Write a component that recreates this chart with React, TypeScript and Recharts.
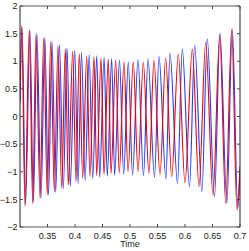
import { LineChart, Line, XAxis, YAxis } from "recharts";

// peaks/troughs, in order
const redTime = [
  0.3, 0.3031, 0.3091, 0.3169, 0.3231, 0.3291, 0.3364, 0.3431, 0.3496, 0.3558,
  0.3624, 0.3691, 0.3758, 0.3824, 0.3878, 0.3958, 0.4018, 0.4078, 0.414, 0.4213,
  0.4273, 0.4345, 0.4395, 0.4473, 0.4527, 0.4605, 0.4655, 0.474, 0.4805, 0.4891,
  0.4964, 0.506, 0.5145, 0.5242, 0.5345, 0.5436, 0.5545, 0.5649, 0.5758, 0.5878,
  0.6, 0.6133, 0.6255, 0.6376, 0.6509, 0.6631, 0.674, 0.6849, 0.6945, 0.7,
];
const redValue = [
  0.3, 1.64, -1.62, 1.57, -1.58, 1.49, -1.48, 1.42, -1.42, 1.35,
  -1.36, 1.28, -1.3, 1.22, -1.24, 1.18, -1.18, 1.14, -1.12, 1.1,
  -1.09, 1.08, -1.07, 1.06, -1.05, 1.04, -1.03, 1.02, -1.02, 0.99,
  -1.0, 0.99, -1.0, 0.98, -1.03, 1.02, -1.05, 1.06, -1.09, 1.13,
  -1.2, 1.22, -1.27, 1.34, -1.42, 1.47, -1.57, 1.58, -1.69, -0.9,
];
const blueTime = [
  0.3, 0.3038, 0.31, 0.318, 0.3244, 0.3307, 0.3382, 0.3451, 0.3518, 0.3582,
  0.3649, 0.3718, 0.3787, 0.3856, 0.3913, 0.3995, 0.4056, 0.4118, 0.4184, 0.4258,
  0.4322, 0.4396, 0.4449, 0.4529, 0.4587, 0.4667, 0.472, 0.4809, 0.4885, 0.4969,
  0.5046, 0.5145, 0.5246, 0.5327, 0.5446, 0.5527, 0.5653, 0.5727, 0.5864, 0.5951,
  0.6082, 0.6176, 0.6307, 0.6405, 0.6537, 0.6636, 0.6762, 0.686, 0.696, 0.7,
];
const blueValue = [
  0.25, 1.62, -1.6, 1.56, -1.55, 1.5, -1.48, 1.43, -1.42, 1.36,
  -1.37, 1.3, -1.31, 1.24, -1.26, 1.2, -1.21, 1.16, -1.16, 1.12,
  -1.13, 1.1, -1.1, 1.07, -1.08, 1.05, -1.06, 1.02, -1.05, 0.99,
  -1.06, 1.03, -1.07, 1.05, -1.1, 1.09, -1.13, 1.15, -1.21, 1.22,
  -1.27, 1.29, -1.36, 1.4, -1.45, 1.51, -1.57, 1.58, -1.66, -1.0,
];

const timeTicks = [0.35, 0.4, 0.45, 0.5, 0.55, 0.6, 0.65, 0.7];
const valueTicks = [-2, -1.5, -1, -0.5, 0, 0.5, 1, 1.5, 2];

const redData = redTime.map((t, i) => ({ t, v: redValue[i] }));
const blueData = blueTime.map((t, i) => ({ t, v: blueValue[i] }));

const LEFT = 20;
const RIGHT = 240;
const TOP = 6;
const BOTTOM = 227;
const FONT = "'Liberation Sans', Arial, Helvetica, sans-serif";
const TEXT = "#1a1a1a";

const fmt = (v: number) => String(v).replace("-", "\u2212");

function BottomTick({ x, payload }: any) {
  return (
    <g>
      <line x1={x} x2={x} y1={BOTTOM} y2={BOTTOM - 3} stroke="#444" />
      <text x={x} y={238.5} textAnchor="middle" fontSize={9} fill={TEXT} fontFamily={FONT}>
        {fmt(payload.value)}
      </text>
    </g>
  );
}

function TopTick({ x }: any) {
  return <line x1={x} x2={x} y1={TOP} y2={TOP + 3} stroke="#444" />;
}

function LeftTick({ y, payload }: any) {
  return (
    <g>
      <line x1={LEFT} x2={LEFT + 3} y1={y} y2={y} stroke="#444" />
      <text x={17.5} y={y + 3.2} textAnchor="end" fontSize={9} fill={TEXT} fontFamily={FONT}>
        {fmt(payload.value)}
      </text>
    </g>
  );
}

function RightTick({ y }: any) {
  return <line x1={RIGHT} x2={RIGHT - 3} y1={y} y2={y} stroke="#444" />;
}

export default function App() {
  return (
    <div style={{ position: "absolute", left: 0, top: 0, background: "#fff" }}>
      <LineChart width={249} height={251} margin={{ top: 0, right: 0, bottom: 0, left: 0 }}>
        <XAxis
          xAxisId="bottom"
          dataKey="t"
          type="number"
          domain={[0.3, 0.7]}
          ticks={timeTicks}
          interval={0}
          allowDataOverflow
          height={24}
          axisLine={{ stroke: "#8f8f8f", strokeWidth: 1.5 }}
          tickLine={false}
          tick={BottomTick}
          label={{ value: "Time", position: "insideBottom", offset: 4, fontSize: 9, fill: TEXT, fontFamily: FONT }}
        />
        <XAxis
          xAxisId="top"
          orientation="top"
          dataKey="t"
          type="number"
          domain={[0.3, 0.7]}
          ticks={timeTicks}
          interval={0}
          allowDataOverflow
          height={TOP}
          axisLine={{ stroke: "#8f8f8f", strokeWidth: 1.5 }}
          tickLine={false}
          tick={TopTick}
        />
        <YAxis
          yAxisId="left"
          type="number"
          domain={[-2, 2]}
          ticks={valueTicks}
          interval={0}
          allowDataOverflow
          width={LEFT}
          axisLine={{ stroke: "#222" }}
          tickLine={false}
          tick={LeftTick}
        />
        <YAxis
          yAxisId="right"
          orientation="right"
          type="number"
          domain={[-2, 2]}
          ticks={valueTicks}
          interval={0}
          allowDataOverflow
          width={249 - RIGHT}
          axisLine={{ stroke: "#222" }}
          tickLine={false}
          tick={RightTick}
        />
        <Line
          xAxisId="bottom"
          yAxisId="left"
          data={blueData}
          dataKey="v"
          type="monotone"
          stroke="#1f3dff"
          strokeWidth={1.1}
          dot={false}
          isAnimationActive={false}
        />
        <Line
          xAxisId="bottom"
          yAxisId="left"
          data={redData}
          dataKey="v"
          type="monotone"
          stroke="#ee0000"
          strokeWidth={1.1}
          dot={false}
          isAnimationActive={false}
        />
      </LineChart>
    </div>
  );
}
